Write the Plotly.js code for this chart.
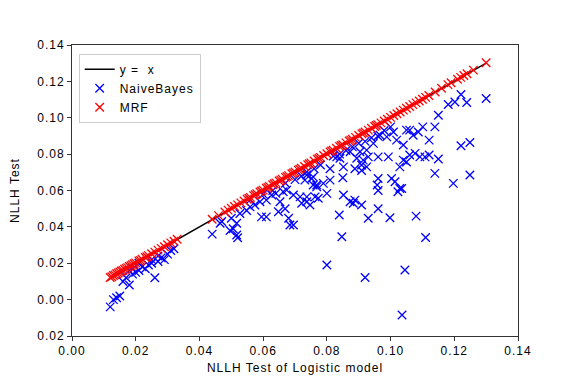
<!DOCTYPE html>
<html><head><meta charset="utf-8">
<script src="https://cdn.plot.ly/plotly-3.0.1.min.js"></script>
<style>body{margin:0;background:#fff}#plot{width:576px;height:384px}text{letter-spacing:1px}</style>
</head><body><div id="plot"></div>
<script>
// y = x reference line endpoints
const lineX = [0.012, 0.130];
const lineY = [0.012, 0.130];

// Naive Bayes (x = logistic NLLH, y = NB NLLH)
const nbX = [0.012,0.013,0.014,0.015,0.016,0.017,0.018,0.018,0.019,0.019,0.020,0.021,0.021,0.022,0.023,0.024,0.025,0.025,0.026,0.027,0.027,0.028,0.029,0.030,0.031,0.032,
0.044,0.0465,0.047,0.0496,0.050,0.0506,0.0517,0.0517,0.052,0.0527,0.0548,0.0559,0.0574,0.0595,0.061,0.059,0.061,0.0627,0.064,0.0653,0.0648,0.0669,0.068,0.0684,0.0695,0.0663,0.0674,0.0695,0.0716,0.0721,0.0737,0.0747,0.0731,0.0737,0.0757,0.0757,0.0768,0.0763,0.0773,
0.056,0.060,0.063,0.067,0.070,0.072,
0.080,0.0847,0.0839,0.092,0.0852,0.0873,0.0883,0.0888,0.0909,0.093,0.0961,0.0998,0.1045,0.1036,0.085,0.081,0.081,0.0852,0.0888,0.0909,0.0909,0.0914,0.093,0.0961,0.0993,0.0961,0.0958,0.0961,0.1003,0.1014,0.1029,0.1029,0.105,0.1019,0.1009,0.0988,0.0967,0.0946,0.0925,0.0904,0.0894,0.0873,0.0841,0.0831,0.0737,0.0737,0.0768,0.0789,0.080,0.0752,0.0925,0.105,
0.082,0.084,0.086,0.088,0.090,0.092,0.094,0.096,0.098,0.100,0.078,0.076,
0.130,0.1221,0.1239,0.1202,0.1181,0.115,0.1139,0.1121,0.1101,0.1087,0.1071,0.106,0.104,0.106,0.1077,0.1092,0.1108,0.1121,0.115,0.104,0.1139,0.1197,0.1249,0.1221,0.1249,0.1035,
0.108,0.111,0.1023];
const nbY = [-0.004,0.000,0.001,0.002,0.010,0.012,0.008,0.016,0.014,0.017,0.015,0.016,0.020,0.018,0.017,0.019,0.020,0.022,0.012,0.021,0.024,0.023,0.022,0.025,0.027,0.028,
0.036,0.042,0.043,0.038,0.0447,0.039,0.0355,0.042,0.034,0.0474,0.049,0.051,0.052,0.0455,0.0455,0.0538,0.0547,0.0575,0.0584,0.0538,0.0483,0.050,0.0447,0.041,0.041,0.0593,0.0602,0.0575,0.0565,0.053,0.0538,0.052,0.0657,0.0685,0.0675,0.063,0.062,0.0565,0.0557,
0.055,0.058,0.060,0.064,0.066,0.068,
0.019,0.0346,0.0465,0.0122,0.0575,0.0538,0.053,0.0547,0.052,0.0447,0.050,0.045,0.0163,-0.0085,0.067,0.0657,0.072,0.073,0.072,0.074,0.071,0.0767,0.0785,0.0785,0.0785,0.0666,0.063,0.060,0.0666,0.0648,0.0611,0.073,0.0757,0.0877,0.0922,0.0895,0.0904,0.0859,0.0822,0.0813,0.0777,0.0813,0.0777,0.0785,0.0702,0.0565,0.063,0.0639,0.0584,0.0666,0.073,0.0932,
0.079,0.080,0.082,0.084,0.086,0.087,0.089,0.090,0.093,0.095,0.074,0.072,
0.1106,0.1128,0.1084,0.1087,0.1073,0.1014,0.095,0.0877,0.095,0.0922,0.0904,0.0932,0.085,0.0795,0.0804,0.0785,0.0785,0.0795,0.0773,0.0767,0.0694,0.0639,0.0685,0.0846,0.0864,0.0611,
0.0459,0.0342,0.0593];

// MRF (x = logistic NLLH, y = MRF NLLH)
const mrfX = [0.012,0.0125,0.013,0.0135,0.014,0.0145,0.015,0.0155,0.016,0.0165,0.017,0.0175,0.018,0.0185,0.019,0.0195,0.020,0.021,0.0215,0.022,0.023,0.0235,0.024,0.025,0.026,0.027,0.028,0.029,0.030,0.031,0.032,0.033,
0.044,0.046,0.048,0.049,0.050,0.051,0.052,0.053,0.054,0.055,0.0555,0.056,0.057,0.0575,0.058,0.059,0.0595,0.060,0.061,0.0615,0.062,0.063,0.0635,0.064,0.065,0.0655,0.066,0.067,0.0675,0.068,0.069,0.0695,0.070,0.071,0.0715,0.072,0.073,0.074,0.0745,0.075,0.076,0.077,0.0775,0.078,0.079,0.080,0.081,0.0815,0.082,0.083,0.084,0.0845,0.085,0.086,0.087,0.0875,0.088,0.089,0.090,0.091,0.0915,0.092,0.093,0.094,0.095,0.0955,0.096,0.097,0.098,0.099,0.100,0.101,0.102,0.103,0.104,0.105,0.106,0.107,0.108,0.109,0.110,0.111,0.112,0.114,0.116,0.118,0.119,0.121,0.122,0.123,0.124,0.126,0.130];
const mrfY = [0.0122,0.0126,0.0133,0.0136,0.0142,0.0146,0.0152,0.0157,0.0161,0.0167,0.0172,0.0176,0.0182,0.0186,0.0192,0.0197,0.0202,0.0212,0.0216,0.0222,0.0232,0.0236,0.0242,0.0252,0.0261,0.0272,0.0282,0.0291,0.0302,0.0312,0.0321,0.0332,
0.0442,0.0462,0.0482,0.0492,0.0502,0.0512,0.0521,0.0532,0.0542,0.0552,0.0557,0.0562,0.0572,0.0577,0.0582,0.0592,0.0597,0.0602,0.0612,0.0617,0.0622,0.0632,0.0637,0.0642,0.0652,0.0657,0.0662,0.0672,0.0677,0.0682,0.0692,0.0697,0.0702,0.0712,0.0717,0.0722,0.0732,0.0742,0.0747,0.0752,0.0762,0.0772,0.0777,0.0782,0.0792,0.0802,0.0812,0.0817,0.0822,0.0832,0.0842,0.0847,0.0852,0.0862,0.0872,0.0877,0.0882,0.0892,0.0902,0.0912,0.0917,0.0922,0.0932,0.0942,0.0952,0.0957,0.0962,0.0972,0.0982,0.0992,0.1002,0.1012,0.1022,0.1032,0.1042,0.1052,0.1062,0.1072,0.1082,0.1092,0.1102,0.1112,0.1122,0.1142,0.1162,0.1182,0.1192,0.1212,0.1222,0.1232,0.1242,0.1262,0.1302];

const yTickVals = [-0.02,0.00,0.02,0.04,0.06,0.08,0.10,0.12,0.14];
const yTickText = ['0.02','0.00','0.02','0.04','0.06','0.08','0.10','0.12','0.14'];
const xTickVals = [0.00,0.02,0.04,0.06,0.08,0.10,0.12,0.14];
const xTickText = ['0.00','0.02','0.04','0.06','0.08','0.10','0.12','0.14'];

const font = {family: 'Liberation Sans, Arial, sans-serif', size: 12, color: '#000'};
const traces = [
  {x: lineX, y: lineY, mode: 'lines', name: 'y =  x', line: {color: '#000', width: 1.5}},
  {x: nbX, y: nbY, mode: 'markers', name: 'NaiveBayes',
   marker: {symbol: 'x-thin', size: 8.5, color: '#0000ff', line: {color: '#0000ff', width: 1.3}}},
  {x: mrfX, y: mrfY, mode: 'markers', name: 'MRF',
   marker: {symbol: 'x-thin', size: 8.5, color: '#ff0000', line: {color: '#ff0000', width: 1.3}}}
];
const axisCommon = {showgrid: false, zeroline: false, showline: true, mirror: true,
  linecolor: '#333', linewidth: 1, ticks: 'outside', ticklen: 4, tickcolor: '#333', tickfont: font};
const layout = {
  width: 576, height: 384,
  margin: {l: 72, r: 58, t: 45, b: 48},
  paper_bgcolor: '#fff', plot_bgcolor: '#fff',
  font: font,
  showlegend: true,
  legend: {x: 0.015, y: 0.97, xanchor: 'left', yanchor: 'top', bgcolor: 'rgba(255,255,255,0.8)',
    bordercolor: '#ccc', borderwidth: 1, tracegroupgap: 0, font: {family: font.family, size: 12, color: '#000'}},
  xaxis: Object.assign({}, axisCommon, {range: [0, 0.14], tickvals: xTickVals, ticktext: xTickText,
    title: {text: 'NLLH Test of Logistic model', font: font, standoff: 6}}),
  yaxis: Object.assign({}, axisCommon, {range: [-0.02, 0.14], tickvals: yTickVals, ticktext: yTickText,
    title: {text: 'NLLH Test', font: font, standoff: 15}})
};
Plotly.newPlot('plot', traces, layout, {staticPlot: true, displayModeBar: false});
</script></body></html>
